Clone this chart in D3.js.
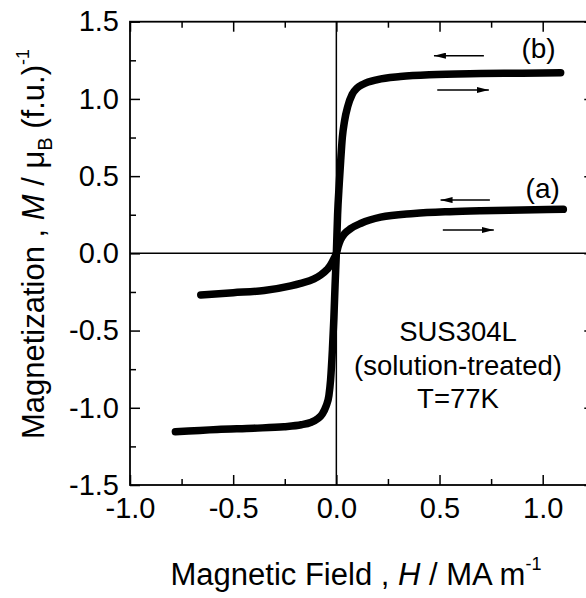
<!DOCTYPE html>
<html>
<head>
<meta charset="utf-8">
<script src="https://cdn.jsdelivr.net/npm/d3@7"></script>
<style>
  html, body { margin: 0; padding: 0; background: #fff; }
  svg text { font-family: "Liberation Sans", Arial, sans-serif; fill: #000; }
</style>
</head>
<body>
<svg id="chart" width="586" height="598"></svg>
<script>
// Magnetization curves of SUS304L (solution-treated) at 77 K
// Field H in MA/m, magnetization M in Bohr magnetons per formula unit
const fieldB = [-0.78, -0.577, -0.40, -0.254, -0.17, -0.125, -0.09, -0.068, -0.05, -0.036, -0.028, -0.019, -0.012, -0.006, 0.0,
                0.006, 0.014, 0.021, 0.029, 0.04, 0.055, 0.077, 0.1, 0.13, 0.2, 0.31, 0.45, 0.7, 0.9, 1.087];
const magB  = [-1.155, -1.14, -1.132, -1.123, -1.11, -1.095, -1.07, -1.04, -0.99, -0.92, -0.82, -0.62, -0.42, -0.2, 0.0,
                0.25, 0.45, 0.6, 0.75, 0.86, 0.95, 1.03, 1.07, 1.095, 1.125, 1.145, 1.157, 1.164, 1.167, 1.17];

const fieldA = [-0.657, -0.5, -0.35, -0.221, -0.173, -0.108, -0.076, -0.045, -0.028, -0.012, 0.0, 0.01, 0.02, 0.04,
                0.069, 0.12, 0.215, 0.376, 0.55, 0.70, 0.9, 1.10];
const magA  = [-0.27, -0.255, -0.24, -0.21, -0.194, -0.165, -0.14, -0.105, -0.076, -0.035, 0.0, 0.05, 0.086, 0.128,
                0.16, 0.195, 0.234, 0.258, 0.27, 0.276, 0.281, 0.285];

const xTicks = [-1.0, -0.5, 0.0, 0.5, 1.0];
const yTicks = [-1.5, -1.0, -0.5, 0.0, 0.5, 1.0, 1.5];
const xMinor = [-0.75, -0.25, 0.25, 0.75, 1.25];
const yMinor = [-1.25, -0.75, -0.25, 0.25, 0.75, 1.25];

// sweep-direction arrows, from -> to at level M
const arrowsFrom = [0.715, 0.489, 0.744, 0.516];
const arrowsTo   = [0.473, 0.739, 0.505, 0.763];
const arrowsM    = [1.28, 1.058, 0.345, 0.151];

const curveLabels = ["(b)", "(a)"];
const labelH = [0.98, 1.0];
const labelM = [1.265, 0.358];

const noteLines = ["SUS304L", "(solution-treated)", "T=77K"];

(function draw() {
  const svg = d3.select("#chart");
  const pLeft = 130, pTop = 21.7, pBottom = 485;
  const x = d3.scaleLinear().domain([-1.0, 1.25]).range([pLeft, pLeft + 2.25 * 206.35]);
  const y = d3.scaleLinear().domain([-1.5, 1.5]).range([pBottom, pTop]);
  const pRight = x(1.25);

  // frame
  svg.append("rect")
    .attr("x", pLeft).attr("y", pTop)
    .attr("width", pRight - pLeft).attr("height", pBottom - pTop)
    .attr("fill", "none").attr("stroke", "#000").attr("stroke-width", 1.8);

  // zero lines
  svg.append("line")
    .attr("x1", pLeft).attr("x2", pRight).attr("y1", y(0)).attr("y2", y(0))
    .attr("stroke", "#000").attr("stroke-width", 1.5);
  svg.append("line")
    .attr("x1", x(0)).attr("x2", x(0)).attr("y1", pTop).attr("y2", pBottom)
    .attr("stroke", "#000").attr("stroke-width", 1.5);

  // axes: ticks point inward on all four sides, labels use a plain hyphen minus
  const fmt = d => d3.format(".1f")(d).replace("\u2212", "-");
  function tickGroup(axis, transform) {
    const g = svg.append("g").attr("transform", transform).call(axis);
    g.select(".domain").remove();
    g.selectAll(".tick line").attr("stroke", "#000").attr("stroke-width", 1.5);
    g.selectAll("text").attr("font-size", 29)
      .attr("font-family", "Liberation Sans, Arial, sans-serif").attr("fill", "#000");
    return g;
  }

  tickGroup(d3.axisBottom(x).tickValues(xTicks).tickSize(-10).tickPadding(12).tickFormat(fmt),
            `translate(0,${pBottom})`);
  tickGroup(d3.axisBottom(x).tickValues(xMinor).tickSize(-6).tickFormat(""), `translate(0,${pBottom})`);

  tickGroup(d3.axisTop(x).tickValues(xTicks).tickSize(-10).tickFormat(""), `translate(0,${pTop})`);
  tickGroup(d3.axisTop(x).tickValues(xMinor).tickSize(-6).tickFormat(""), `translate(0,${pTop})`);

  tickGroup(d3.axisLeft(y).tickValues(yTicks).tickSize(-10).tickPadding(11).tickFormat(fmt),
            `translate(${pLeft},0)`);
  tickGroup(d3.axisLeft(y).tickValues(yMinor).tickSize(-6).tickFormat(""), `translate(${pLeft},0)`);

  tickGroup(d3.axisRight(y).tickValues(yTicks).tickSize(-10).tickFormat(""), `translate(${pRight},0)`);
  tickGroup(d3.axisRight(y).tickValues(yMinor).tickSize(-6).tickFormat(""), `translate(${pRight},0)`);

  // magnetization curves
  const line = d3.line().x(d => x(d[0])).y(d => y(d[1])).curve(d3.curveMonotoneX);
  [[fieldB, magB], [fieldA, magA]].forEach(([hs, ms]) => {
    svg.append("path")
      .datum(d3.zip(hs, ms))
      .attr("d", line)
      .attr("fill", "none").attr("stroke", "#000")
      .attr("stroke-width", 7.5).attr("stroke-linecap", "round").attr("stroke-linejoin", "round");
  });

  // sweep arrows
  const defs = svg.append("defs");
  defs.append("marker")
    .attr("id", "head").attr("viewBox", "0 0 12 6").attr("refX", 12).attr("refY", 3)
    .attr("markerWidth", 12).attr("markerHeight", 6).attr("markerUnits", "userSpaceOnUse")
    .attr("orient", "auto")
    .append("path").attr("d", "M0,0 L12,3 L0,6 Z").attr("fill", "#000");
  arrowsFrom.forEach((h0, i) => {
    svg.append("line")
      .attr("x1", x(h0)).attr("x2", x(arrowsTo[i]))
      .attr("y1", y(arrowsM[i])).attr("y2", y(arrowsM[i]))
      .attr("stroke", "#000").attr("stroke-width", 1.5)
      .attr("marker-end", "url(#head)");
  });

  // curve labels
  curveLabels.forEach((t, i) => {
    svg.append("text")
      .attr("x", x(labelH[i])).attr("y", y(labelM[i]))
      .attr("text-anchor", "middle").attr("font-size", 28)
      .text(t);
  });

  // sample note
  const note = svg.append("text").attr("text-anchor", "middle").attr("font-size", 27.5);
  noteLines.forEach((t, i) => {
    note.append("tspan").attr("x", 458).attr("y", 341 + i * 33.5).text(t);
  });

  // x axis title
  const xt = svg.append("text")
    .attr("x", 356).attr("y", 585).attr("text-anchor", "middle").attr("font-size", 31);
  xt.append("tspan").text("Magnetic Field , ");
  xt.append("tspan").attr("font-style", "italic").text("H");
  xt.append("tspan").text(" / MA m");
  xt.append("tspan").attr("font-size", 18).attr("dy", -15).text("-1");

  // y axis title
  const yt = svg.append("text")
    .attr("transform", `translate(44,244) rotate(-90)`)
    .attr("text-anchor", "middle").attr("font-size", 31);
  yt.append("tspan").text("Magnetization , ");
  yt.append("tspan").attr("font-style", "italic").text("M");
  yt.append("tspan").text(" / μ");
  yt.append("tspan").attr("font-size", 20).attr("dy", 8).text("B");
  yt.append("tspan").attr("dy", -8).text(" (f.u.)");
  yt.append("tspan").attr("font-size", 18).attr("dy", -15).text("-1");
})();
</script>
</body>
</html>
